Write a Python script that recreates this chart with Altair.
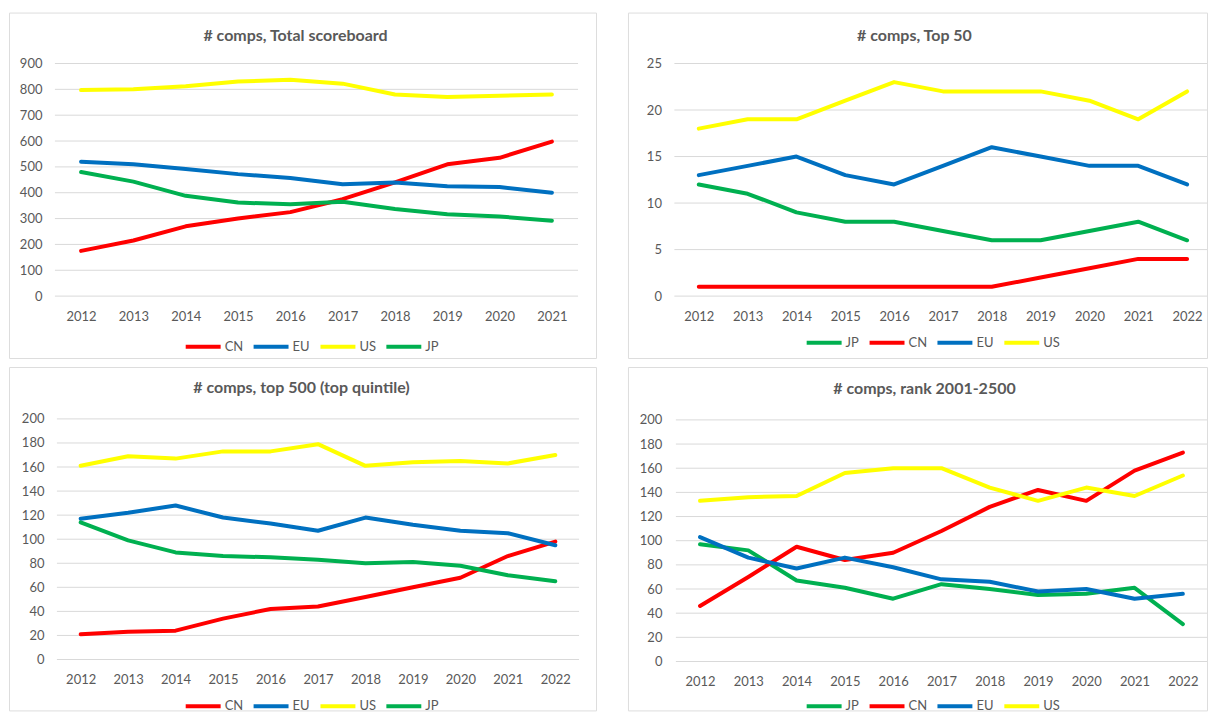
import altair as alt
import pandas as pd

FONT = "Lato"
TXT = "#595959"
GRID = "#d9d9d9"
COLORS = {"CN": "#FF0000", "EU": "#0070C0", "US": "#FFFF00", "JP": "#00B050"}

years10 = ["2012", "2013", "2014", "2015", "2016", "2017", "2018", "2019", "2020", "2021"]
years11 = years10 + ["2022"]

# Panel 1: # comps, Total scoreboard
p1_title = "# comps, Total scoreboard"
p1_order = ["CN", "EU", "US", "JP"]
p1_cn = [175, 215, 270, 300, 325, 375, 440, 510, 535, 598]
p1_eu = [520, 510, 492, 472, 457, 433, 440, 425, 422, 400]
p1_us = [797, 800, 812, 830, 837, 822, 780, 770, 775, 780]
p1_jp = [480, 443, 388, 362, 355, 365, 337, 317, 308, 292]
p1_ticks = [0, 100, 200, 300, 400, 500, 600, 700, 800, 900]

# Panel 2: # comps, Top 50
p2_title = "# comps, Top 50"
p2_order = ["JP", "CN", "EU", "US"]
p2_jp = [12, 11, 9, 8, 8, 7, 6, 6, 7, 8, 6]
p2_cn = [1, 1, 1, 1, 1, 1, 1, 2, 3, 4, 4]
p2_eu = [13, 14, 15, 13, 12, 14, 16, 15, 14, 14, 12]
p2_us = [18, 19, 19, 21, 23, 22, 22, 22, 21, 19, 22]
p2_ticks = [0, 5, 10, 15, 20, 25]

# Panel 3: # comps, top 500 (top quintile)
p3_title = "# comps, top 500 (top quintile)"
p3_order = ["CN", "EU", "US", "JP"]
p3_cn = [21, 23, 24, 34, 42, 44, 52, 60, 68, 86, 98]
p3_eu = [117, 122, 128, 118, 113, 107, 118, 112, 107, 105, 95]
p3_us = [161, 169, 167, 173, 173, 179, 161, 164, 165, 163, 170]
p3_jp = [114, 99, 89, 86, 85, 83, 80, 81, 78, 70, 65]
p3_ticks = [0, 20, 40, 60, 80, 100, 120, 140, 160, 180, 200]

# Panel 4: # comps, rank 2001-2500
p4_title = "# comps, rank 2001-2500"
p4_order = ["JP", "CN", "EU", "US"]
p4_jp = [97, 92, 67, 61, 52, 64, 60, 55, 56, 61, 31]
p4_cn = [46, 70, 95, 84, 90, 108, 128, 142, 133, 158, 173]
p4_eu = [103, 86, 77, 86, 78, 68, 66, 58, 60, 52, 56]
p4_us = [133, 136, 137, 156, 160, 160, 144, 133, 144, 137, 154]
p4_ticks = [0, 20, 40, 60, 80, 100, 120, 140, 160, 180, 200]

# legend symbol: a 35px horizontal stroke drawn from a small nominal size
LEG_PATH = "M-1,0H9"


def panel(title, years, series, order, ticks, g):
    rows = []
    for c in order:
        for yr, v in zip(years, series[c]):
            rows.append({"year": yr, "country": c, "value": v})
    df = pd.DataFrame(rows)
    grid_df = pd.DataFrame({"value": ticks})

    yscale = alt.Scale(domain=[ticks[0], ticks[-1]], nice=False, zero=True,
                       range=[g["yb"], g["yt"]])
    yaxis = alt.Axis(title=None, values=ticks, offset=-g["xl"], domain=False,
                     ticks=False, grid=False, labelPadding=g["lp"],
                     labelFont=FONT, labelFontSize=13, labelColor=TXT)
    xaxis = alt.Axis(title=None, orient="bottom", offset=-(g["H"] - g["yb"]),
                     domain=False, ticks=False, grid=False, labelAngle=0,
                     labelPadding=14, labelFont=FONT, labelFontSize=13,
                     labelColor=TXT)

    grid = alt.Chart(grid_df).mark_rule(color=GRID, strokeWidth=1).encode(
        y=alt.Y("value:Q", scale=yscale, axis=yaxis),
        x=alt.value(g["xl"]), x2=alt.value(min(g["xr"], g["W"])),
    )
    lines = alt.Chart(df).mark_line(
        strokeWidth=4, strokeJoin="round", strokeCap="round"
    ).encode(
        x=alt.X("year:O", sort=years,
                scale=alt.Scale(type="point", padding=0.5, range=[g["xl"], g["xr"]]),
                axis=xaxis),
        y=alt.Y("value:Q", scale=yscale, axis=yaxis),
        color=alt.Color(
            "country:N",
            scale=alt.Scale(domain=order, range=[COLORS[c] for c in order]),
            legend=alt.Legend(
                title=None, orient="none", legendX=g["lx"], legendY=g["ly"],
                direction="horizontal", symbolType=LEG_PATH, symbolSize=49,
                symbolStrokeWidth=4, symbolFillColor="transparent",
                labelOffset=29, columnPadding=2,
                labelFont=FONT, labelFontSize=13, labelColor=TXT, padding=0,
            ),
        ),
    )
    ttl = alt.Chart(pd.DataFrame({"t": [title]})).mark_text(
        font=FONT, fontSize=16, fontWeight="bold", color=TXT
    ).encode(text="t:N", x=alt.value(g["tx"]), y=alt.value(g["ty"]))

    return alt.layer(grid, lines, ttl).resolve_scale(color="independent").properties(
        width=g["W"], height=g["H"]
    )


g1 = dict(W=588, H=346, xl=46, xr=570, yb=284, yt=51, lp=13, tx=287, ty=23, lx=174, ly=328)
g2 = dict(W=580, H=346, xl=46.5, xr=584.5, yb=284, yt=51, lp=13, tx=287, ty=23, lx=176, ly=324)
g3 = dict(W=588, H=344, xl=48, xr=571, yb=293, yt=52, lp=13, tx=293, ty=21, lx=174, ly=333)
g4 = dict(W=580, H=344, xl=48, xr=580, yb=295, yt=53, lp=14, tx=297, ty=22, lx=176, ly=333)

c1 = panel(p1_title, years10, {"CN": p1_cn, "EU": p1_eu, "US": p1_us, "JP": p1_jp}, p1_order, p1_ticks, g1)
c2 = panel(p2_title, years11, {"JP": p2_jp, "CN": p2_cn, "EU": p2_eu, "US": p2_us}, p2_order, p2_ticks, g2)
c3 = panel(p3_title, years11, {"CN": p3_cn, "EU": p3_eu, "US": p3_us, "JP": p3_jp}, p3_order, p3_ticks, g3)
c4 = panel(p4_title, years11, {"JP": p4_jp, "CN": p4_cn, "EU": p4_eu, "US": p4_us}, p4_order, p4_ticks, g4)

top = alt.hconcat(c1, c2, spacing=30).resolve_scale(
    x="independent", y="independent", color="independent").resolve_legend(color="independent")
bottom = alt.hconcat(c3, c4, spacing=30).resolve_scale(
    x="independent", y="independent", color="independent").resolve_legend(color="independent")

chart = alt.vconcat(top, bottom, spacing=7).resolve_scale(
    x="independent", y="independent", color="independent"
).resolve_legend(color="independent").properties(
    padding={"left": 0, "top": 3, "right": 0, "bottom": 0}
).configure_view(stroke=GRID, strokeWidth=1).configure(background="white")

chart.save("out.html", embed_options={"renderer": "svg", "actions": False})
